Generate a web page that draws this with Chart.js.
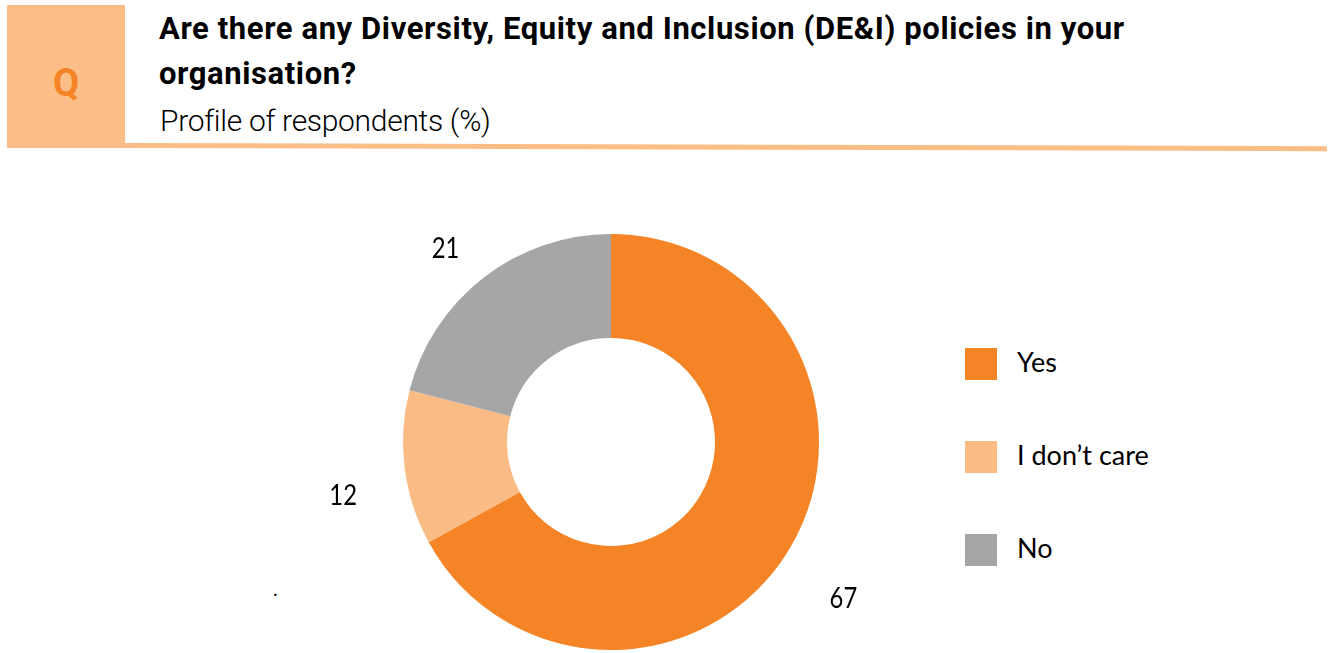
<!DOCTYPE html>
<html>
<head>
<meta charset="utf-8">
<script src="https://cdn.jsdelivr.net/npm/chart.js@4"></script>
<style>
  html, body { margin: 0; padding: 0; background: #fff; }
  body { width: 1331px; height: 653px; position: relative; overflow: hidden; }
  .qbox { position: absolute; left: 7px; top: 5px; width: 118px; height: 143px; background: #fbbe87; }
  .qbox span { position: absolute; left: 0; right: 0; top: 56px; text-align: center;
    font: bold 38px Roboto, sans-serif; color: #f58426; }
  .rule { position: absolute; left: 125px; top: 143px; width: 1202px; height: 5px; background: #fbbe87;
    transform-origin: 0 0; transform: rotate(0.15deg); }
  .title { position: absolute; left: 159px; top: 6px; font: bold 31px Roboto, sans-serif; color: #000;
    line-height: 45px; letter-spacing: 0.6px; white-space: nowrap; }
  .subtitle { position: absolute; left: 160px; top: 103px; font: 300 30px Roboto, sans-serif; color: #000;
    letter-spacing: -0.3px; white-space: nowrap; }
  #wrap { position: absolute; left: 311px; top: 160px; width: 600px; height: 564px; }
  .legend { position: absolute; left: 965px; top: 348px; font: 27px Lato, sans-serif; color: #000; }
  .legend div { position: relative; height: 32px; margin-bottom: 61px; }
  .legend i { position: absolute; left: 0; top: 0; width: 32px; height: 32px; }
  .legend b { position: absolute; left: 52px; top: -2px; font-weight: normal; line-height: 32px; white-space: nowrap; }
  .dot { position: absolute; left: 273px; top: 576px; font: 20px Lato, sans-serif; }
</style>
</head>
<body>
  <div class="qbox"><span>Q</span></div>
  <div class="rule"></div>
  <div class="title">Are there any Diversity, Equity and Inclusion (DE&amp;I) policies in your<br>organisation?</div>
  <div class="subtitle">Profile of respondents (%)</div>
  <div id="wrap"><canvas id="dei"></canvas></div>
  <div class="legend" id="legend"></div>
  <div class="dot">.</div>

<script>
const categories = ["Yes", "I don\u2019t care", "No"];
const shares = [67, 12, 21];
const sliceColors = ["#f58426", "#fabb85", "#a6a6a6"];

// value labels just outside each slice, hung a little below the radial point
const outsideLabels = {
  id: "outsideLabels",
  afterDatasetsDraw(chart) {
    const { ctx } = chart;
    const meta = chart.getDatasetMeta(0);
    ctx.save();
    ctx.font = "28px Lato, sans-serif";
    ctx.fillStyle = "#000";
    ctx.textAlign = "center";
    ctx.textBaseline = "middle";
    meta.data.forEach((arc, i) => {
      const a = (arc.startAngle + arc.endAngle) / 2;
      const r = arc.outerRadius + 62;
      const x = arc.x + Math.cos(a) * r;
      const y = arc.y + Math.sin(a) * r + 20;
      ctx.save();
      ctx.translate(x, y);
      ctx.scale(0.85, 1);
      ctx.fillText(String(shares[i]), 0, 0);
      ctx.restore();
    });
    ctx.restore();
  },
};

new Chart(document.getElementById("dei"), {
  type: "doughnut",
  data: {
    labels: categories,
    datasets: [
      {
        data: shares,
        backgroundColor: sliceColors,
        borderWidth: 0,
      },
    ],
  },
  options: {
    responsive: true,
    maintainAspectRatio: false,
    animation: false,
    cutout: "50%",
    layout: { padding: 74 },
    plugins: {
      legend: { display: false },
      tooltip: { enabled: false },
    },
  },
  plugins: [outsideLabels],
});

// legend on the right
const legend = document.getElementById("legend");
categories.forEach((name, i) => {
  const row = document.createElement("div");
  row.innerHTML = `<i style="background:${sliceColors[i]}"></i><b>${name}</b>`;
  legend.appendChild(row);
});
</script>
</body>
</html>
